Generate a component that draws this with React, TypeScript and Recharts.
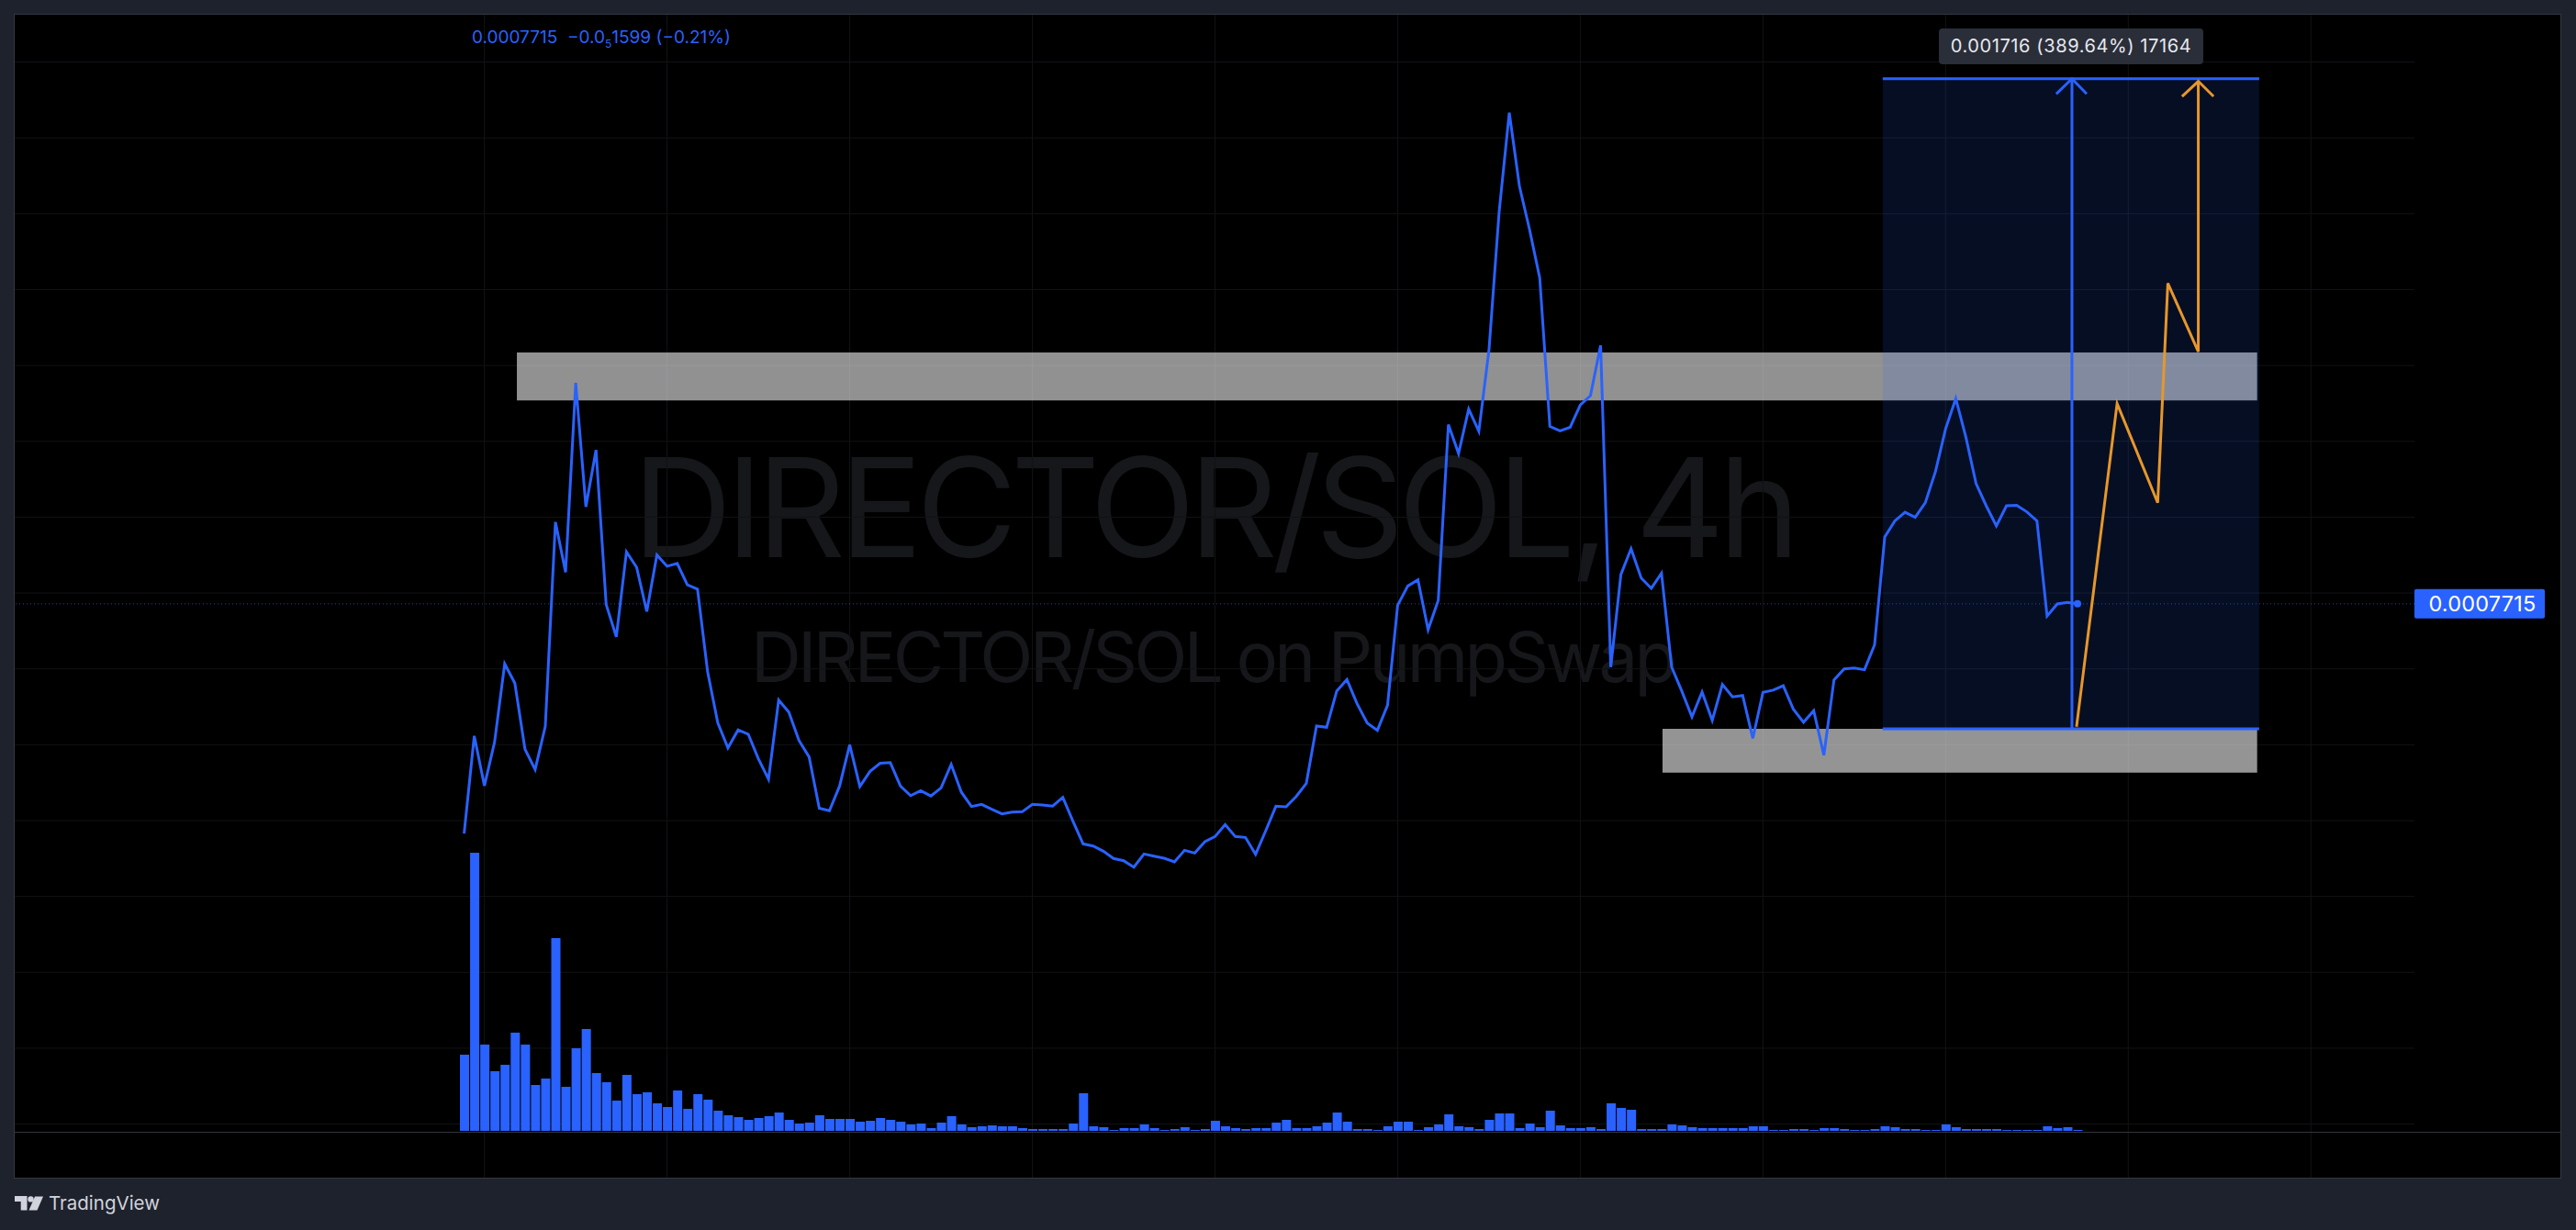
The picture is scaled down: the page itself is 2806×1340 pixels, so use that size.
import {
  Bar,
  CartesianGrid,
  ComposedChart,
  Line,
  ReferenceArea,
  ReferenceDot,
  ReferenceLine,
  XAxis,
  YAxis,
} from "recharts";

// prices are in millionths of SOL, volumes in arbitrary units
const closes = [
  165.9, 423.3, 291.8, 406.7, 613.2, 562.3, 388.1, 334.4, 448.3, 987.3,
  854.9, 1354.1, 1027.2, 1177.2, 769.7, 684.5, 908.6, 867.9, 751.2, 900.3,
  870.6, 878.1, 821.6, 810.4, 591.9, 457.6, 391.8, 439.1, 428, 363.1,
  309.4, 517.8, 486.3, 411.3, 367.8, 232.6, 226.1, 290.9, 400.2, 290,
  329.8, 351.1, 352.9, 290.9, 265.9, 278.9, 265, 286.3, 348.3, 275.2,
  237.2, 242.7, 229.8, 217.7, 222.4, 223.3, 242.7, 240.9, 238.1, 261.3,
  198.3, 138.7, 133, 119.3, 100, 94.3, 77.4, 112.1, 106.4, 100.8,
  91.1, 121.7, 114.5, 144.3, 158, 189.5, 158, 155.6, 111.3, 173.4,
  237.9, 236.3, 263.7, 298.4, 449.3, 446, 542, 571.9, 508.1, 457.3,
  438, 504.1, 767.9, 818.7, 834.9, 703.4, 780.8, 1244.1, 1167.9, 1285.2,
  1226.5, 1441.2, 1804.8, 2066.4, 1872.8, 1757.9, 1631.2, 1239.4, 1227.7, 1237.1,
  1295.7, 1320.4, 1452.9, 604.8, 848.8, 916.8, 839.4, 812.4, 852.3, 604.8,
  541.5, 473.4, 539.1, 464.1, 559.1, 526.2, 529.7, 417.1, 537.9, 543.8,
  555.5, 493.4, 459.4, 489.9, 372.6, 570.8, 600.1, 602.5, 597.8, 663.5,
  947.8, 990.3, 1012.8, 999.5, 1038.1, 1120.3, 1233.2, 1312.8, 1210.6, 1088.5,
  1030.1, 977, 1030.1, 1031.4, 1014.1, 990.3, 739.4, 771.2, 775.2, 771.5,
];

const volumes = [
  83, 303, 94, 65, 72, 107, 94, 50, 57, 210,
  48, 90, 111, 63, 53, 33, 61, 40, 42, 30,
  26, 44, 24, 40, 34, 22, 17, 15, 12, 14,
  16, 20, 12, 8, 9, 17, 13, 13, 13, 10,
  11, 14, 12, 10, 7, 8, 3, 9, 16, 7,
  4, 5, 6, 5, 5, 3, 2, 2, 2, 2,
  8, 41, 5, 4, 1, 3, 3, 7, 3, 1,
  2, 4, 1, 2, 11, 5, 3, 2, 3, 3,
  9, 12, 3, 3, 5, 9, 20, 10, 2, 2,
  1, 5, 10, 10, 1, 4, 7, 18, 5, 4,
  2, 12, 19, 19, 3, 8, 4, 22, 6, 3,
  3, 4, 2, 30, 25, 23, 2, 2, 2, 7,
  6, 4, 3, 3, 3, 3, 3, 5, 5, 1,
  1, 2, 2, 1, 3, 3, 2, 1, 1, 2,
  5, 4, 2, 2, 1, 1, 7, 4, 2, 2,
  2, 2, 1, 1, 1, 1, 5, 3, 4, 1,
];

const lastPrice = 771.5;
const lastPriceLabel = "0.0007715";

const measureLow = 442;
const measureHigh = 2156;
const measureFrom = 139.8;
const measureTo = 176.9;
const measureMid = 158.45;

const resistanceBox = { x1: 5.2, x2: 176.7, y1: 1307.6, y2: 1434.2 };
const supportBox = { x1: 118.1, x2: 176.7, y1: 326.6, y2: 442 };

const projectionIdx = [158.9, 162.9, 166.9, 167.9, 170.9, 170.9];
const projectionPrice = [447.3, 1299.6, 1038, 1616.8, 1436.3, 2149.2];
const projectionHeadIdx = [169.3, 170.9, 172.4];
const projectionHeadPrice = [2109.3, 2149.2, 2109.3];
const measureHeadIdx = [156.9, 158.45, 159.9];
const measureHeadPrice = [2115.9, 2156, 2115.9];

const gridPrices = [-600, -400, -200, 0, 200, 400, 600, 800, 1000, 1200, 1400, 1600, 1800, 2000, 2200];
const gridBars = [2, 20, 38, 56, 74, 92, 110, 128, 146, 164, 182];

const xDomain = [-44.29, 192.2];

const chartData = closes.map((close, i) => ({ idx: i, close, volume: volumes[i] }));

function toPath(xs: number[], ys: number[]) {
  return xs.map((idx, i) => ({ idx, price: ys[i] }));
}

const BLUE = "#2962ff";
const ORANGE = "#e6972b";
const FONT = "Inter, sans-serif";

function PriceChip(props: any) {
  const { x, y } = props;
  return (
    <g>
      <rect x={x} y={y - 16} width={142} height={32} rx={2} fill={BLUE} />
      <text x={x + 74} y={y + 8.5} textAnchor="middle" fill="#fff" fontSize={23.5} letterSpacing={0.2} fontFamily={FONT}>
        {lastPriceLabel}
      </text>
    </g>
  );
}

// drawing tools live on their own hidden x axis so they do not shrink the volume bars
function pathLine(data: { idx: number; price: number }[], color: string) {
  return (
    <Line
      data={data}
      dataKey="price"
      xAxisId="tools"
      yAxisId="price"
      stroke={color}
      strokeWidth={3}
      dot={false}
      activeDot={false}
      legendType="none"
      isAnimationActive={false}
    />
  );
}

function TradingViewLogo() {
  return (
    <svg width={32} height={16} viewBox="0 0 32 16" style={{ position: "absolute", left: 16, top: 1303 }}>
      <path d="M0 0H13.5V15.5H6.7V6H0Z" fill="#d1d4dc" />
      <circle cx={17.5} cy={3.4} r={3.2} fill="#d1d4dc" />
      <path d="M22 0.5H31L24.5 15.5H15.5Z" fill="#d1d4dc" />
    </svg>
  );
}

export default function App() {
  return (
    <div style={{ position: "absolute", left: 0, top: 0, width: 2806, height: 1340, background: "#1e222d", overflow: "hidden", fontFamily: FONT }}>
      <div style={{ position: "absolute", left: 16, top: 16, width: 2773, height: 1267, background: "#000", outline: "1px solid #343842" }} />

      <div style={{ position: "absolute", left: 689, top: 463, fontSize: 150, lineHeight: "180px", letterSpacing: -6.5, color: "#16171a", whiteSpace: "nowrap" }}>
        DIRECTOR/SOL, 4h
      </div>
      <div style={{ position: "absolute", left: 818, top: 669, fontSize: 76, lineHeight: "92px", letterSpacing: -3.8, color: "#16171a", whiteSpace: "nowrap" }}>
        DIRECTOR/SOL on PumpSwap
      </div>

      <div style={{ position: "absolute", left: 16, top: 16 }}>
        <ComposedChart
          width={2773}
          height={1267}
          data={chartData}
          margin={{ top: 0, right: 0, bottom: 0, left: 0 }}
        >
          <XAxis dataKey="idx" type="number" domain={xDomain} allowDataOverflow hide />
          <XAxis xAxisId="tools" dataKey="idx" type="number" domain={xDomain} allowDataOverflow hide />
          <YAxis
            yAxisId="price"
            orientation="right"
            width={159}
            domain={[-741.4, 2324.8]}
            allowDataOverflow
            ticks={[lastPrice]}
            interval={0}
            axisLine={false}
            tickLine={false}
            tickSize={0}
            tickMargin={0}
            tick={<PriceChip />}
          />
          <YAxis yAxisId="vol" domain={[-51, 1216]} allowDataOverflow hide />
          <CartesianGrid
            yAxisId="price"
            stroke="#121316"
            strokeWidth={1}
            horizontalValues={gridPrices}
            verticalValues={gridBars}
          />
          <ReferenceArea yAxisId="price" {...resistanceBox} fill="#fff" fillOpacity={0.57} stroke="none" />
          <ReferenceArea yAxisId="price" {...supportBox} fill="#fff" fillOpacity={0.58} stroke="none" />
          <ReferenceArea
            yAxisId="price"
            x1={measureFrom}
            x2={measureTo}
            y1={measureLow}
            y2={measureHigh}
            fill={BLUE}
            fillOpacity={0.14}
            stroke="none"
          />
          <ReferenceLine yAxisId="price" y={lastPrice} stroke={BLUE} strokeOpacity={0.7} strokeDasharray="1 3" />
          <Bar dataKey="volume" yAxisId="vol" fill={BLUE} barSize={10} isAnimationActive={false} />
          <Line dataKey="close" yAxisId="price" stroke={BLUE} strokeWidth={3} dot={false} activeDot={false} isAnimationActive={false} />
          {pathLine(toPath([measureFrom, measureTo], [measureLow, measureLow]), BLUE)}
          {pathLine(toPath([measureFrom, measureTo], [measureHigh, measureHigh]), BLUE)}
          {pathLine(toPath([measureMid, measureMid], [measureLow, measureHigh]), BLUE)}
          {pathLine(toPath(measureHeadIdx, measureHeadPrice), BLUE)}
          {pathLine(toPath(projectionIdx, projectionPrice), ORANGE)}
          {pathLine(toPath(projectionHeadIdx, projectionHeadPrice), ORANGE)}
          <ReferenceDot yAxisId="price" x={159} y={lastPrice} r={4} fill={BLUE} stroke="none" />
        </ComposedChart>
      </div>

      <div style={{ position: "absolute", left: 16, top: 1233, width: 2773, height: 1, background: "#34353a" }} />

      <div style={{ position: "absolute", left: 2112, top: 31, width: 288, height: 39, borderRadius: 4, background: "#2a2e39", color: "#e6e8ee", fontSize: 20, lineHeight: "39px", textAlign: "center", letterSpacing: 0.6 }}>
        0.001716 (389.64%) 17164
      </div>

      <div style={{ position: "absolute", left: 514, top: 29, color: BLUE, fontSize: 19, lineHeight: "24px", whiteSpace: "pre" }}>
        {"0.0007715  \u22120.0"}
        <sub style={{ fontSize: 12, lineHeight: 0 }}>5</sub>
        {"1599 (\u22120.21%)"}
      </div>

      <TradingViewLogo />
      <div style={{ position: "absolute", left: 53, top: 1298, color: "#d1d4dc", fontSize: 20.5, lineHeight: "26px" }}>
        TradingView
      </div>
    </div>
  );
}
